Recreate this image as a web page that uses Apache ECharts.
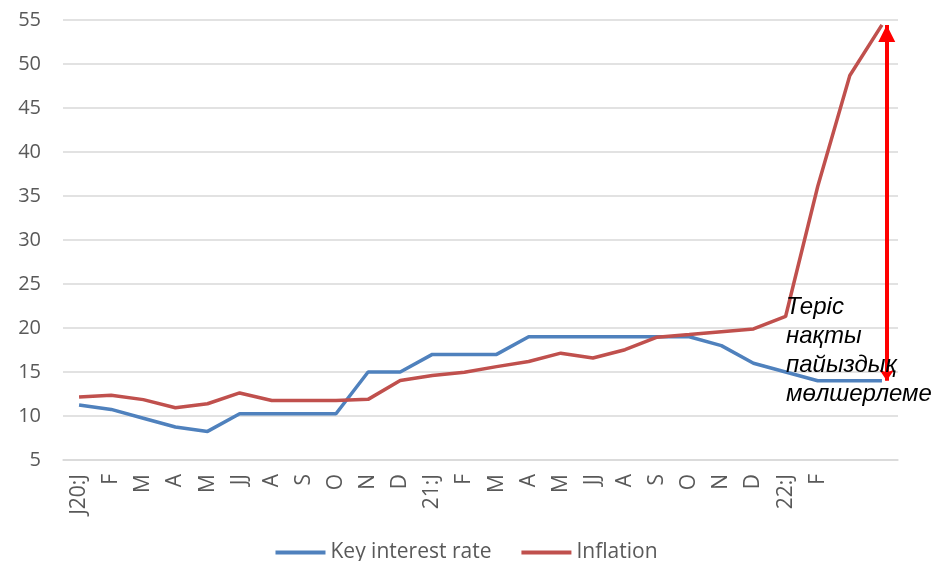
<!DOCTYPE html>
<html>
<head>
<meta charset="utf-8">
<title>Key interest rate vs inflation</title>
<script src="https://cdn.jsdelivr.net/npm/echarts@6/dist/echarts.min.js"></script>
<style>
  html, body { margin: 0; padding: 0; background: #fff; }
  #chart { width: 933px; height: 561px; }
</style>
</head>
<body>
<div id="chart"></div>
<script>
const months = ['J20:J', 'F', 'M', 'A', 'M', 'JJ', 'A', 'S', 'O', 'N', 'D',
  '21:J', 'F', 'M', 'A', 'M', 'JJ', 'A', 'S', 'O', 'N', 'D', '22:J', 'F', '', '']

const keyRate = [11.25, 10.75, 9.75, 8.75, 8.25, 10.25, 10.25, 10.25, 10.25, 15, 15,
  17, 17, 17, 19, 19, 19, 19, 19, 19, 18, 16, 15, 14, 14, 14]

const inflation = [12.15, 12.37, 11.86, 10.94, 11.39, 12.62, 11.76, 11.77, 11.75, 11.89, 14.03,
  14.6, 14.97, 15.61, 16.19, 17.14, 16.59, 17.53, 18.95, 19.25, 19.58, 19.89, 21.31, 36.08, 48.69, 54.44]

// gap arrow: from the rate level up to the last inflation value
const gapFrom = 14
const gapTo = 54.44
const gapAt = 25.65

const noteText = 'Теріс\nнақты\nпайыздық\nмөлшерлеме'

const labelColor = '#595959'
const gridColor = '#d9d9d9'

const chart = echarts.init(document.getElementById('chart'))

chart.setOption({
  animation: false,
  textStyle: { fontFamily: 'Open Sans' },
  grid: { left: 63, right: 35, top: 20, bottom: 101 },
  legend: {
    bottom: -7,
    left: 'center',
    icon: 'rect',
    itemWidth: 50,
    itemHeight: 4,
    itemGap: 30,
    textStyle: { color: labelColor, fontSize: 21, fontFamily: 'Open Sans' },
    data: ['Key interest rate', 'Inflation'],
  },
  xAxis: [
    {
      type: 'category',
      data: months,
      axisLine: { lineStyle: { color: gridColor, width: 1.5 } },
      axisTick: { show: false },
      axisLabel: {
        rotate: 90,
        interval: 0,
        margin: 14,
        color: labelColor,
        fontSize: 21,
      },
    },
    {
      type: 'value',
      min: 0,
      max: months.length,
      show: false,
    },
  ],
  yAxis: {
    type: 'value',
    min: 5,
    max: 55,
    interval: 5,
    axisLine: { show: false },
    axisTick: { show: false },
    axisLabel: { color: labelColor, fontSize: 20, margin: 22 },
    splitLine: { lineStyle: { color: gridColor, width: 1.5 } },
  },
  series: [
    {
      name: 'Key interest rate',
      type: 'line',
      data: keyRate,
      symbol: 'none',
      color: '#4f81bd',
      lineStyle: { width: 3.5 },
    },
    {
      name: 'Inflation',
      type: 'line',
      data: inflation,
      symbol: 'none',
      color: '#c0504d',
      lineStyle: { width: 3.5 },
    },
    {
      name: 'gap',
      type: 'line',
      xAxisIndex: 1,
      data: [],
      silent: true,
      markLine: {
        silent: true,
        label: { show: false },
        lineStyle: { color: '#ff0000', width: 4, type: 'solid' },
        data: [[
          { coord: [gapAt, gapFrom], symbol: 'arrow', symbolSize: 11 },
          { coord: [gapAt, gapTo], symbol: 'triangle', symbolSize: 17, symbolOffset: [0, '50%'] },
        ]],
      },
      z: 5,
    },
  ],
  graphic: [
    {
      type: 'text',
      left: 786,
      top: 293,
      z: 100,
      style: {
        text: noteText,
        fill: '#000',
        font: 'italic 24px "Liberation Sans"',
        lineHeight: 29,
      },
    },
  ],
})
</script>
</body>
</html>
